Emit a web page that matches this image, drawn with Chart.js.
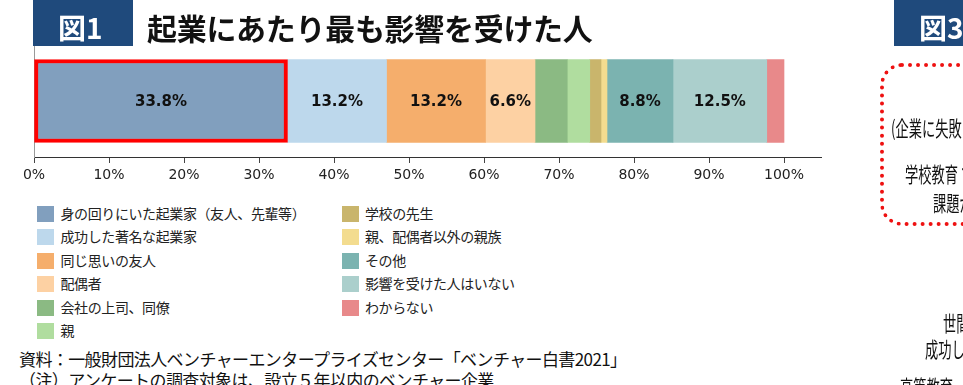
<!DOCTYPE html>
<html><head><meta charset="utf-8">
<script src="https://cdn.jsdelivr.net/npm/chart.js@4/dist/chart.umd.min.js"></script>
<style>
html,body{margin:0;padding:0;width:963px;height:385px;overflow:hidden;background:#fff;font-family:"Noto Sans CJK JP",sans-serif;}
#wrap{position:relative;width:963px;height:385px;overflow:hidden;}
#c{position:absolute;left:0;top:0;}
.abs{position:absolute;white-space:nowrap;}
.figbox{background:#1f4a7c;color:#fff;font-weight:700;height:46px;top:0;width:100px;}
.figbox span{position:absolute;left:25px;top:10px;font-size:28px;line-height:34px;}
.title{left:147px;top:9px;font-size:30px;line-height:36px;font-weight:700;color:#111;letter-spacing:-0.3px;}
.leg{font-size:14px;color:#222;letter-spacing:-0.4px;line-height:16px;}
.leg i{position:absolute;left:0;top:0;width:17px;height:16px;}
.leg b{position:absolute;left:23.5px;top:-1px;font-weight:400;}
.src{left:19px;font-size:17px;color:#111;line-height:20px;letter-spacing:-0.6px;}
.cond{font-size:21px;color:#111;transform-origin:0 50%;transform:scaleX(0.63);line-height:24px;}
#dots{left:880px;top:63px;width:200px;height:155px;border:4px dotted #ee1111;border-radius:22px;}
</style></head>
<body><div id="wrap">
<canvas id="c" width="963" height="200"></canvas>
<div class="abs figbox" style="left:33px"><span>図1</span></div>
<div class="abs title">起業にあたり最も影響を受けた人</div>
<div class="abs figbox" style="left:894px"><span>図3</span></div>
<div class="abs" id="dots"></div>
<div class="abs cond" style="left:891px;top:115px">(企業に失敗した</div>
<div class="abs cond" style="left:905px;top:161px">学校教育 での</div>
<div class="abs cond" style="left:933px;top:190px">課題が</div>
<div class="abs cond" style="left:943px;top:310px">世間の</div>
<div class="abs cond" style="left:925px;top:336px">成功した</div>
<div class="abs cond" style="left:900px;top:374px">高等教育</div>
<div id="legend"></div>
<div class="abs src" style="top:349px">資料：一般財団法人ベンチャーエンタープライズセンター「ベンチャー白書2021」</div>
<div class="abs src" style="top:370px">（注）アンケートの調査対象は、設立５年以内のベンチャー企業</div>
</div>
<script>
const categories = ['起業にあたり最も影響を受けた人'];
const seriesLabels = ['身の回りにいた起業家（友人、先輩等）','成功した著名な起業家','同じ思いの友人','配偶者','会社の上司、同僚','親','学校の先生','親、配偶者以外の親族','その他','影響を受けた人はいない','わからない'];
const seriesValues = [33.8,13.2,13.2,6.6,4.3,3.0,1.5,0.8,8.8,12.5,2.3];
const seriesColors = ['#819fbe','#bdd8ec','#f5ae6c','#fdd1a3','#8bba83','#b0dd9f','#c9b56c','#f3dc8f','#7bb3b0','#abcfcc','#e8898a'];
const xTickValues = [0,10,20,30,40,50,60,70,80,90,100];
const labelThreshold = 5;

const valueLabels = {
  id:'valueLabels',
  afterDatasetsDraw(chart){
    const ctx = chart.ctx;
    ctx.save();
    ctx.font = 'bold 15px "DejaVu Sans"';
    ctx.fillStyle = '#111';
    ctx.textAlign = 'center';
    ctx.textBaseline = 'middle';
    chart.data.datasets.forEach((ds,i)=>{
      const v = ds.data[0];
      if (v < labelThreshold) return;
      const el = chart.getDatasetMeta(i).data[0];
      const p = el.getCenterPoint();
      ctx.fillText(v.toFixed(1)+'%', p.x, p.y+1);
    });
    ctx.restore();
  }
};

const datasets = seriesLabels.map((lab,i)=>({
  label: lab,
  data: [seriesValues[i]],
  backgroundColor: seriesColors[i],
  borderColor: i===0 ? '#ff0000' : seriesColors[i],
  borderWidth: i===0 ? 4 : 0,
  borderSkipped: false,
  barThickness: 83
}));

const chart = new Chart(document.getElementById('c'), {
  type:'bar',
  data:{labels:categories, datasets},
  plugins:[valueLabels],
  options:{
    indexAxis:'y',
    responsive:false,
    animation:false,
    layout:{padding:{left:0,top:45,right:141.5,bottom:0}},
    plugins:{legend:{display:false},tooltip:{enabled:false}},
    scales:{
      x:{
        stacked:true,min:0,max:105,
        afterBuildTicks:s=>{s.ticks = xTickValues.map(v=>({value:v}));},
        afterFit:s=>{s.height=43;},
        ticks:{font:{family:'DejaVu Sans',size:14},color:'#222',padding:4,maxRotation:0,autoSkip:false,callback:v=>v+'%'},
        grid:{display:true,drawOnChartArea:false,drawTicks:true,tickLength:6,color:'#444'},
        border:{display:true,color:'#333',width:1}
      },
      y:{
        stacked:true,
        ticks:{display:false},
        grid:{display:false},
        border:{display:true,color:'#999',width:1},
        afterFit:s=>{s.width=34;}
      }
    }
  }
});

const legend = document.getElementById('legend');
chart.data.datasets.forEach((ds,i)=>{
  const col = i<6 ? 0 : 1;
  const row = i<6 ? i : i-6;
  const d = document.createElement('div');
  d.className = 'abs leg';
  d.style.left = (col===0 ? 37 : 341.5) + 'px';
  d.style.top = (205.7 + row*23.5) + 'px';
  d.innerHTML = '<i style="background:'+ds.backgroundColor+'"></i><b>'+ds.label+'</b>';
  legend.appendChild(d);
});
</script>
</body></html>
